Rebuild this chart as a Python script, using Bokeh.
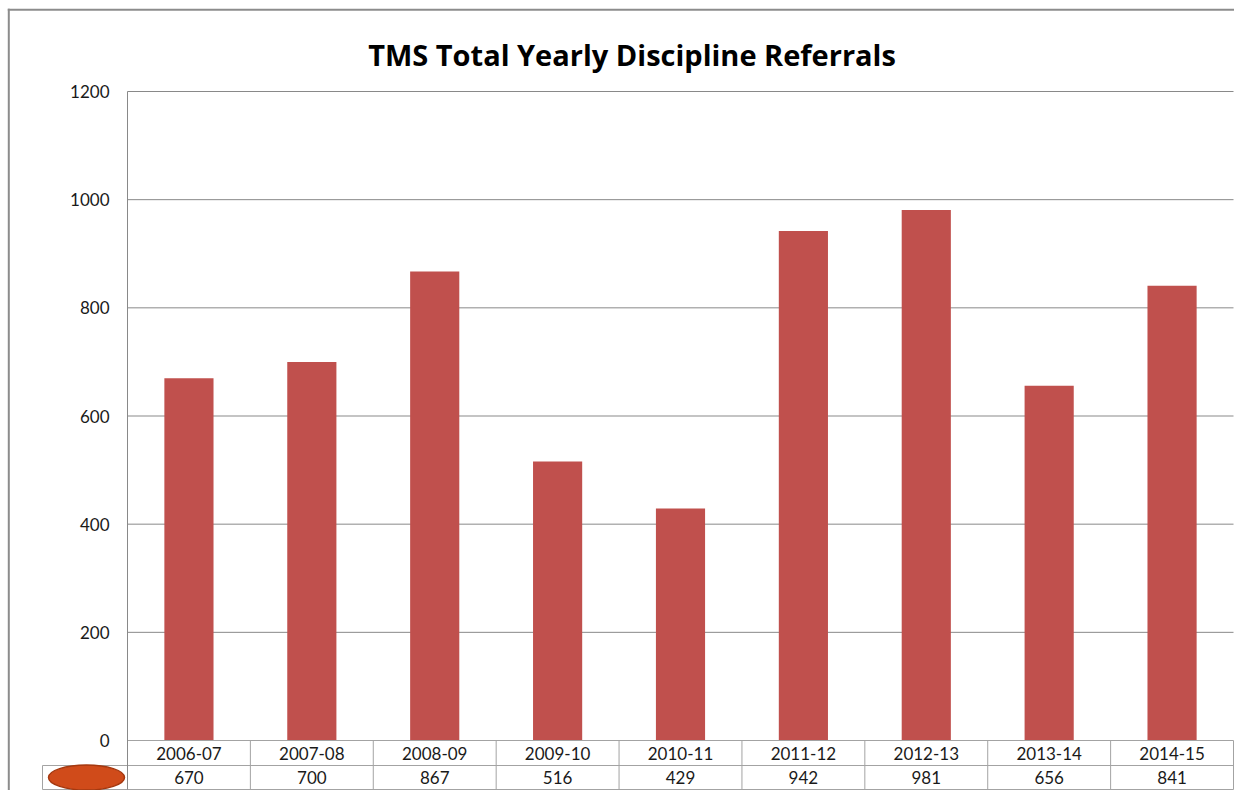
import numpy as np
from bokeh.plotting import figure
from bokeh.models import Range1d, FixedTicker, LinearAxis, ColumnDataSource
from bokeh.core.properties import value
from bokeh.embed import file_html
from bokeh.resources import INLINE

# ---- data ----
title_text = "TMS Total Yearly Discipline Referrals"
categories = ["2006-07", "2007-08", "2008-09", "2009-10", "2010-11",
              "2011-12", "2012-13", "2013-14", "2014-15"]
referrals = [670, 700, 867, 516, 429, 942, 981, 656, 841]
y_ticks = [0, 200, 400, 600, 800, 1000, 1200]

# ---- style ----
FONT = "Lato"
TITLE_FONT = "Open Sans"
GRID = "#898989"
TABLE = "#a3a3a3"
FRAME = "#8c8c8c"
BAR = "#C0504D"
TXT = "#1a1a1a"

W, H = 1234, 790
n = len(categories)
y_max = y_ticks[-1]

# layout geometry (pixels) -> data-space helpers for decorations
PA_LEFT, PA_RIGHT, PA_TOP, PA_BOTTOM = 127, 1233, 91, 740
XPU = (PA_RIGHT - PA_LEFT) / n
YPU = (PA_BOTTOM - PA_TOP) / y_max


def dx(px):
    return (px - PA_LEFT) / XPU


def dy(py):
    return (PA_BOTTOM - py) / YPU


p = figure(x_range=Range1d(dx(0), dx(W)), y_range=Range1d(dy(H), dy(0)),
           width=W, height=H, title=None,
           output_backend="svg", toolbar_location=None,
           x_axis_location=None, y_axis_location=None,
           min_border_left=0, min_border_right=0,
           min_border_top=0, min_border_bottom=0)
p.outline_line_color = None
p.grid.visible = False

row1_bottom = dy(765)
row2_bottom = dy(789)
key_left = dx(42)

# horizontal gridlines (plot area only)
grid_vals = y_ticks[1:]
p.segment(x0=np.zeros(len(grid_vals)), x1=np.full(len(grid_vals), n),
          y0=grid_vals, y1=grid_vals, line_color=GRID, line_width=1)

# bars
idx = np.arange(n)
src = ColumnDataSource(dict(x=idx + 0.5, val=referrals))
p.vbar(x="x", top="val", bottom=0, width=0.4, source=src,
       fill_color=BAR, line_color=None)

# y axis at the plot-area edge
yax = LinearAxis(fixed_location=0, bounds=(row2_bottom, y_max),
                 ticker=FixedTicker(ticks=y_ticks))
yax.major_tick_out = 0
yax.major_tick_in = 0
yax.minor_tick_out = 0
yax.minor_tick_in = 0
yax.axis_line_color = GRID
yax.major_label_standoff = 18
yax.major_label_text_font = FONT
yax.major_label_text_font_size = "17px"
yax.major_label_text_color = TXT
p.add_layout(yax, "left")

# data table borders
bounds = np.arange(1, n + 1)
p.segment(x0=bounds, x1=bounds, y0=np.full(n, row2_bottom), y1=np.zeros(n),
          line_color=TABLE, line_width=1)
p.segment(x0=[key_left], x1=[key_left], y0=[row2_bottom], y1=[row1_bottom],
          line_color=TABLE, line_width=1)
p.segment(x0=[0, key_left, key_left], x1=[n, n, n],
          y0=[0, row1_bottom, row2_bottom], y1=[0, row1_bottom, row2_bottom],
          line_color=TABLE, line_width=1)

p.text(x=idx + 0.5, y=np.full(n, row1_bottom / 2), text=categories,
       text_align="center", text_baseline="middle",
       text_font=value(FONT), text_font_size="17px", text_color=TXT)
p.text(x=idx + 0.5, y=np.full(n, (row1_bottom + row2_bottom) / 2),
       text=[str(v) for v in referrals],
       text_align="center", text_baseline="middle",
       text_font=value(FONT), text_font_size="17px", text_color=TXT)

# legend key in the table
p.ellipse(x=[dx(86)], y=[(row1_bottom + row2_bottom) / 2], width=[76], height=[25],
          width_units="screen", height_units="screen",
          fill_color="#D04B1A", line_color="#A5380F", line_width=1.5)

# title
p.text(x=[dx(631.5)], y=[dy(54)], text=[title_text],
       text_align="center", text_baseline="alphabetic",
       text_font=value(TITLE_FONT), text_font_style="bold",
       text_font_size="29px", text_color="#000000")

# chart-area border (left and top)
p.segment(x0=[dx(8.3), dx(7.3)], x1=[dx(8.3), dx(W)],
          y0=[dy(8.2), dy(9.2)], y1=[dy(H), dy(9.2)],
          line_color=FRAME, line_width=2)

open("out.html", "w").write(file_html(p, INLINE))
